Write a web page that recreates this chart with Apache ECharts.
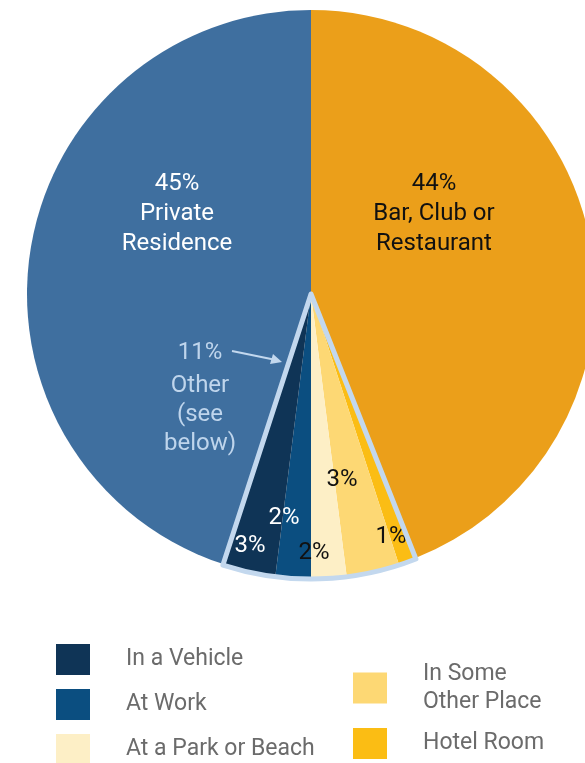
<!DOCTYPE html>
<html>
<head>
<meta charset="utf-8">
<script src="https://cdn.jsdelivr.net/npm/echarts@6/dist/echarts.min.js"></script>
<style>
html,body{margin:0;padding:0;background:#fff;}
#c{width:585px;height:763px;}
</style>
</head>
<body>
<div id="c"></div>
<script>
// ---- data ----
const categories = ['Bar, Club or Restaurant', 'Hotel Room', 'In Some Other Place', 'At a Park or Beach', 'At Work', 'In a Vehicle', 'Private Residence'];
const values = [44, 1, 3, 2, 2, 3, 45];
const labelText = ['Bar, Club or\nRestaurant', '', '', '', '', '', 'Private\nResidence'];
const otherGroup = ['Hotel Room', 'In Some Other Place', 'At a Park or Beach', 'At Work', 'In a Vehicle'];
const otherLabel = 'Other\n(see\nbelow)';
const legendCol1 = ['In a Vehicle', 'At Work', 'At a Park or Beach'];
const legendCol2a = ['In Some Other Place'];
const legendCol2b = ['Hotel Room'];

// ---- styles ----
const colors = {
  'Bar, Club or Restaurant': '#EB9F1A',
  'Hotel Room': '#FBBD14',
  'In Some Other Place': '#FDD874',
  'At a Park or Beach': '#FDEFC6',
  'At Work': '#0B4E80',
  'In a Vehicle': '#0F3456',
  'Private Residence': '#3F6F9F'
};
const labelColors = {
  'Bar, Club or Restaurant': '#111',
  'Hotel Room': '#111',
  'In Some Other Place': '#111',
  'At a Park or Beach': '#111',
  'At Work': '#fff',
  'In a Vehicle': '#fff',
  'Private Residence': '#fff'
};
const labelPos = {
  'Bar, Club or Restaurant': [434, 214],
  'Hotel Room': [391, 537],
  'In Some Other Place': [342, 480],
  'At a Park or Beach': [314, 553],
  'At Work': [284, 518],
  'In a Vehicle': [250, 546],
  'Private Residence': [177, 214]
};
const CENTER = [311, 294];
const R = 284;
const FONT = 'Roboto, "Liberation Sans", sans-serif';
const FS = 24;
const OUTLINE = '#C3D8EE';

const chart = echarts.init(document.getElementById('c'), null, {renderer: 'canvas'});

const mainData = categories.map((c, i) => ({
  name: c,
  value: values[i],
  itemStyle: {color: colors[c]},
  label: {color: labelColors[c]}
}));

const otherSum = categories.reduce((s, c, i) => s + (otherGroup.includes(c) ? values[i] : 0), 0);
const barVal = values[categories.indexOf('Bar, Club or Restaurant')];
const privVal = values[categories.indexOf('Private Residence')];

const outlineData = [
  {name: '_bar', value: barVal, itemStyle: {color: 'rgba(0,0,0,0)', borderWidth: 0}, label: {show: false}},
  {name: '_other', value: otherSum, itemStyle: {color: 'rgba(0,0,0,0)', borderColor: OUTLINE, borderWidth: 5}, label: {show: true}},
  {name: '_priv', value: privVal, itemStyle: {color: 'rgba(0,0,0,0)', borderWidth: 0}, label: {show: false}}
];

function legendBase(data, left, top, gap) {
  return {
    data: data,
    orient: 'vertical',
    left: left,
    top: top,
    height: 300,
    itemWidth: 34,
    itemHeight: 31,
    itemGap: gap,
    selectedMode: false,
    icon: 'rect',
    padding: 0,
    textStyle: {fontFamily: FONT, fontSize: 23, color: '#6B6B6B', padding: [0, 0, 0, 31], lineHeight: 28}
  };
}

const legA = legendBase(legendCol1, 56, 644, 14);
const legB = legendBase(legendCol2a, 353, 660, 10);
legB.formatter = n => n === 'In Some Other Place' ? 'In Some\nOther Place' : n;
const legC = legendBase(legendCol2b, 353, 728, 10);

chart.setOption({
  animation: false,
  backgroundColor: '#fff',
  legend: [legA, legB, legC],
  series: [
    {
      type: 'pie',
      center: CENTER,
      radius: R,
      startAngle: 90,
      clockwise: true,
      avoidLabelOverlap: false,
      silent: true,
      itemStyle: {borderWidth: 0},
      label: {
        show: true,
        position: 'inside',
        fontFamily: FONT,
        fontSize: FS,
        lineHeight: 30,
        align: 'center',
        formatter: p => p.value + '%' + (labelText[p.dataIndex] ? '\n' + labelText[p.dataIndex] : '')
      },
      labelLine: {show: false},
      labelLayout: p => {
        const pos = labelPos[categories[p.dataIndex]];
        return {x: pos[0], y: pos[1], align: 'center', verticalAlign: 'middle'};
      },
      data: mainData
    },
    {
      type: 'pie',
      center: CENTER,
      radius: R + 1,
      startAngle: 90,
      clockwise: true,
      avoidLabelOverlap: false,
      silent: true,
      z: 3,
      label: {
        position: 'inside',
        fontFamily: FONT,
        fontSize: FS,
        color: '#BFD5EC',
        align: 'center',
        formatter: p => '{a|' + p.value + '%}\n' + otherLabel.split('\n').map(s => '{b|' + s + '}').join('\n'),
        rich: {
          a: {fontFamily: FONT, fontSize: FS, color: '#BFD5EC', lineHeight: 38, align: 'center'},
          b: {fontFamily: FONT, fontSize: FS, color: '#BFD5EC', lineHeight: 29, align: 'center'}
        }
      },
      labelLine: {show: false},
      labelLayout: p => (p.dataIndex === 1 ? {x: 200, y: 396, align: 'center', verticalAlign: 'middle'} : {}),
      data: outlineData
    }
  ],
  graphic: [
    {
      type: 'line',
      shape: {x1: 232, y1: 351, x2: 276, y2: 360},
      style: {stroke: OUTLINE, lineWidth: 2},
      z: 10
    },
    {
      type: 'polygon',
      shape: {points: [[282, 362], [270, 364], [273, 354]]},
      style: {fill: OUTLINE},
      z: 10
    }
  ]
});
</script>
</body>
</html>
